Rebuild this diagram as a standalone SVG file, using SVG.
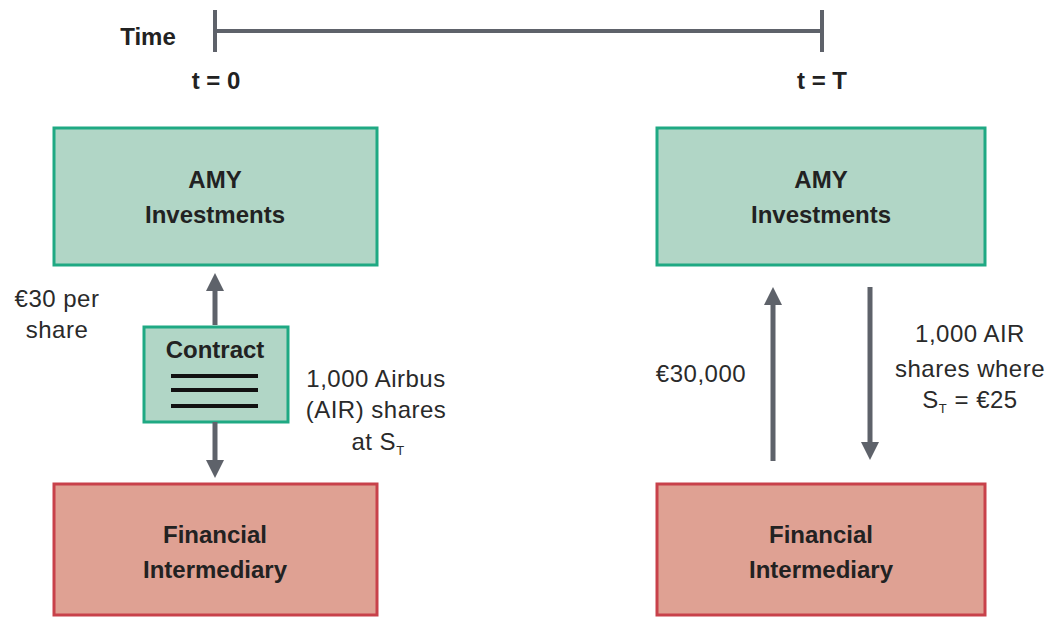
<svg xmlns="http://www.w3.org/2000/svg" width="1055" height="618" viewBox="0 0 1055 618">
<style>
.g{fill:#b1d6c6;stroke:#1fa983;stroke-width:3}
.r{fill:#dfa193;stroke:#c8414a;stroke-width:3}
.b{font-family:"Liberation Sans",Arial,sans-serif;font-weight:bold;font-size:24px;fill:#222;text-anchor:middle}
.t{font-family:"Liberation Sans",Arial,sans-serif;font-size:24px;fill:#2a2a2a;text-anchor:middle;letter-spacing:0.5px}
.ar{stroke:#5e626a;stroke-width:5;fill:none}
.tl{stroke:#5e626a;stroke-width:4;fill:none}
.dl{stroke:#111;stroke-width:4}
</style>
<defs>
<marker id="ah" viewBox="0 0 18 18" refX="0" refY="9" markerWidth="18" markerHeight="18" markerUnits="userSpaceOnUse" orient="auto">
<path d="M0,0 L18,9 L0,18 z" fill="#5e626a"/>
</marker>
</defs>
<rect width="1055" height="618" fill="#fff"/>
<g id="timeline">
<line class="tl" x1="215" y1="10" x2="215" y2="52"/>
<line class="tl" x1="215" y1="31" x2="822" y2="31"/>
<line class="tl" x1="822" y1="10" x2="822" y2="52"/>
<text class="b" x="148" y="45" font-size="22">Time</text>
<text class="b" x="216" y="89">t = 0</text>
<text class="b" x="822" y="89">t = T</text>
</g>
<g id="amy-left">
<rect class="g" x="54" y="128" width="323" height="137"/>
<text class="b" x="215" y="188">AMY</text>
<text class="b" x="215" y="223">Investments</text>
</g>
<g id="fi-left">
<rect class="r" x="54" y="484" width="323" height="131"/>
<text class="b" x="215" y="543">Financial</text>
<text class="b" x="215" y="578">Intermediary</text>
</g>
<g id="contract">
<rect class="g" x="144" y="327" width="144" height="95"/>
<text class="b" x="215" y="358">Contract</text>
<line class="dl" x1="171" y1="376" x2="258" y2="376"/>
<line class="dl" x1="171" y1="390" x2="258" y2="390"/>
<line class="dl" x1="171" y1="406" x2="258" y2="406"/>
</g>
<g id="amy-right">
<rect class="g" x="657" y="128" width="328" height="137"/>
<text class="b" x="821" y="188">AMY</text>
<text class="b" x="821" y="223">Investments</text>
</g>
<g id="fi-right">
<rect class="r" x="657" y="484" width="328" height="131"/>
<text class="b" x="821" y="543">Financial</text>
<text class="b" x="821" y="578">Intermediary</text>
</g>
<g id="connectors">
<line class="ar" x1="215" y1="325" x2="215" y2="291" marker-end="url(#ah)"/>
<line class="ar" x1="215" y1="422" x2="215" y2="460" marker-end="url(#ah)"/>
<line class="ar" x1="773" y1="461" x2="773" y2="305" marker-end="url(#ah)"/>
<line class="ar" x1="870" y1="287" x2="870" y2="442" marker-end="url(#ah)"/>
</g>
<g id="labels">
<text class="t" x="57" y="307">€30 per</text>
<text class="t" x="57" y="338">share</text>
<text class="t" x="376" y="387">1,000 Airbus</text>
<text class="t" x="376" y="418">(AIR) shares</text>
<text class="t" x="378" y="450">at S<tspan font-size="13" dy="5">T</tspan></text>
<text class="t" x="701" y="382">€30,000</text>
<text class="t" x="970" y="342">1,000 AIR</text>
<text class="t" x="970" y="377">shares where</text>
<text class="t" x="970" y="408">S<tspan font-size="13" dy="5">T</tspan><tspan dy="-5"> = €25</tspan></text>
</g>
</svg>
